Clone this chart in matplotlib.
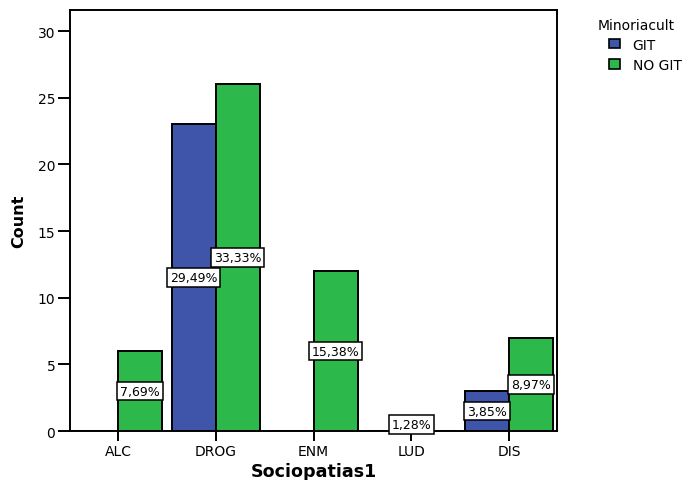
import matplotlib
matplotlib.use("Agg")
import matplotlib.pyplot as plt
from matplotlib.patches import Patch
import numpy as np

categories = ["ALC", "DROG", "ENM", "LUD", "DIS"]
git_counts = [0, 23, 0, 0, 3]
nogit_counts = [6, 26, 12, 0, 7]
git_labels = [None, "29,49%", None, None, "3,85%"]
nogit_labels = ["7,69%", "33,33%", "15,38%", None, "8,97%"]
# LUD: one case shown only as a label at the category centre
lud_label = "1,28%"
lud_count = 1
yticks = [0, 5, 10, 15, 20, 25, 30]
legend_title = "Minoriacult"
group_names = ["GIT", "NO GIT"]

plt.rcParams["font.family"] = ["DejaVu Sans"]

W, H = 688, 481
fig = plt.figure(figsize=(6.88, 4.81), dpi=100)
ax = fig.add_axes([70/W, 1-432/H, (557-70)/W, (432-10.7)/H])

blue = "#3E55A9"
green = "#2DB84B"
w = 0.45
x = np.arange(len(categories))
ax.bar(x - w/2, git_counts, width=w, color=blue, edgecolor="black", linewidth=1.4, zorder=2)
ax.bar(x + w/2, nogit_counts, width=w, color=green, edgecolor="black", linewidth=1.4, zorder=2)

bbox = dict(boxstyle="square,pad=0.22", fc="white", ec="black", lw=1.1)
fs_lab = 9
for i in range(len(categories)):
    if git_labels[i]:
        ax.text(x[i] - w/2, git_counts[i]/2, git_labels[i], ha="center", va="center",
                fontsize=fs_lab, bbox=bbox, zorder=4)
    if nogit_labels[i]:
        ax.text(x[i] + w/2, nogit_counts[i]/2, nogit_labels[i], ha="center", va="center",
                fontsize=fs_lab, bbox=bbox, zorder=4)
li = categories.index("LUD")
ax.text(x[li], lud_count/2, lud_label, ha="center", va="center", fontsize=fs_lab, bbox=bbox, zorder=4)

ax.set_xlim(-0.49, len(categories) - 1 + 0.49)
ax.set_ylim(0, 31.6)
ax.set_xticks(x)
ax.set_xticklabels(categories, fontsize=10)
ax.set_yticks(yticks)
ax.set_yticklabels([str(t) for t in yticks], fontsize=10)
ax.tick_params(axis="x", direction="out", length=7.2, width=1.4, pad=2)
ax.tick_params(axis="y", direction="out", length=8.6, width=1.4, pad=2)
for s in ax.spines.values():
    s.set_linewidth(1.4)

ax.set_xlabel("Sociopatias1", fontsize=12.6, fontweight="bold", labelpad=3)
ax.set_ylabel("Count", fontsize=11.5, fontweight="bold", labelpad=8)

fig.text(598/W, 1-25.5/H, legend_title, fontsize=10, ha="left", va="center")
handles = [Patch(facecolor=blue, edgecolor="black", linewidth=1.2, label=group_names[0]),
           Patch(facecolor=green, edgecolor="black", linewidth=1.2, label=group_names[1])]
leg = fig.legend(handles=handles, loc="upper left",
                 bbox_to_anchor=(609/W, 1-38.5/H), frameon=False, fontsize=10,
                 handlelength=0.8, handleheight=0.68, borderpad=0, borderaxespad=0,
                 handletextpad=0.9, labelspacing=0.45)

fig.savefig("out.png", dpi=100)
